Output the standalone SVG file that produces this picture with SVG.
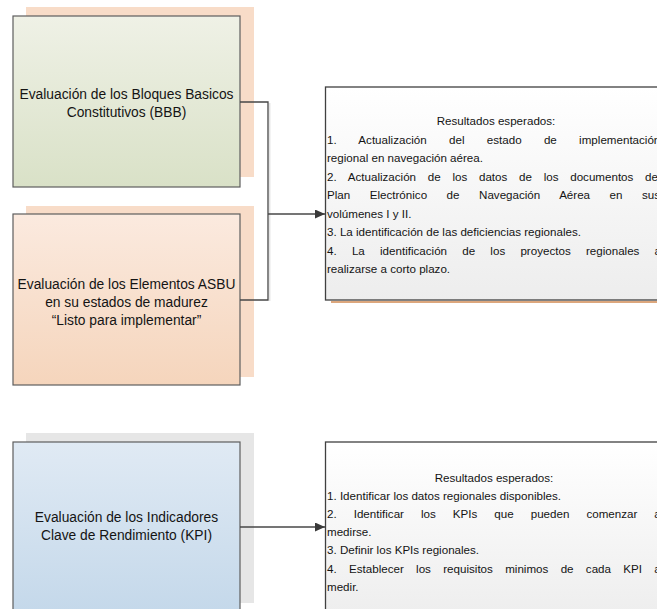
<svg xmlns="http://www.w3.org/2000/svg" width="657" height="609" viewBox="0 0 657 609">
<defs>
  <linearGradient id="gGreen" x1="0" y1="0" x2="0" y2="1">
    <stop offset="0" stop-color="#eff1e6"/><stop offset="1" stop-color="#d9e1c7"/>
  </linearGradient>
  <linearGradient id="gPeach" x1="0" y1="0" x2="0" y2="1">
    <stop offset="0" stop-color="#fbeadf"/><stop offset="1" stop-color="#f5d5bc"/>
  </linearGradient>
  <linearGradient id="gBlue" x1="0" y1="0" x2="0" y2="1">
    <stop offset="0" stop-color="#e0eaf4"/><stop offset="1" stop-color="#c4d8ea"/>
  </linearGradient>
  <linearGradient id="gWhite" x1="0" y1="0" x2="0" y2="1">
    <stop offset="0" stop-color="#ffffff"/><stop offset="1" stop-color="#ededed"/>
  </linearGradient>
  <marker id="arr" markerUnits="userSpaceOnUse" markerWidth="10" markerHeight="9" refX="10" refY="4.5" orient="auto">
    <path d="M0,0 L10,4.5 L0,9 z" fill="#3a3a3a"/>
  </marker>
</defs>
<style>
  .box{stroke:#5e5e5e;stroke-width:1.2}
  .rbox{stroke:#404040;stroke-width:1.3}
  .t{font-family:"Liberation Sans",Arial,sans-serif;fill:#141414}
  .bt{font-size:13.8px;text-anchor:middle}
  .rt{font-size:11.6px}
  .rc{text-anchor:middle}
  .conn{fill:none;stroke:#474747;stroke-width:1.3}
</style>

<g id="bbb">
  <rect x="26" y="7" width="228" height="170" fill="#f8dcc8"/>
  <rect class="box" x="13" y="16" width="227" height="171" fill="url(#gGreen)"/>
  <text class="t bt" x="126.5" y="98.5">Evaluación de los Bloques Basicos</text>
  <text class="t bt" x="126.5" y="116.5">Constitutivos (BBB)</text>
</g>

<g id="asbu">
  <rect x="26" y="206" width="228" height="171" fill="#f8dcc8"/>
  <rect class="box" x="13" y="214" width="227" height="171" fill="url(#gPeach)"/>
  <text class="t bt" x="126.5" y="288.5">Evaluación de los Elementos ASBU</text>
  <text class="t bt" x="126.5" y="306.5">en su estados de madurez</text>
  <text class="t bt" x="126.5" y="324.5">“Listo para implementar”</text>
</g>

<g id="kpi">
  <rect x="26" y="433" width="228" height="170" fill="#e6e6e6"/>
  <rect class="box" x="13" y="442" width="227" height="172" fill="url(#gBlue)"/>
  <text class="t bt" x="126.5" y="522">Evaluación de los Indicadores</text>
  <text class="t bt" x="126.5" y="540">Clave de Rendimiento (KPI)</text>
</g>

<g id="res1">
  <line x1="331" y1="302" x2="670" y2="302" stroke="#d08a52" stroke-width="1.6"/>
  <rect class="rbox" x="325.5" y="87" width="345" height="213" fill="url(#gWhite)"/>
  <text class="t rt rc" x="496" y="125">Resultados esperados:</text>
  <text class="t rt" x="327" y="143.5" style="word-spacing:19.1px">1. Actualización del estado de implementación</text>
  <text class="t rt" x="327" y="162">regional en navegación aérea.</text>
  <text class="t rt" x="327" y="180.5" style="word-spacing:8.5px">2. Actualización de los datos de los documentos del</text>
  <text class="t rt" x="327" y="199" style="word-spacing:16.3px">Plan Electrónico de Navegación Aérea en sus</text>
  <text class="t rt" x="327" y="217.5">volúmenes I y II.</text>
  <text class="t rt" x="327" y="236">3. La identificación de las deficiencias regionales.</text>
  <text class="t rt" x="327" y="254.5" style="word-spacing:12px">4. La identificación de los proyectos regionales a</text>
  <text class="t rt" x="327" y="273">realizarse a corto plazo.</text>
</g>

<g id="res2">
  <rect class="rbox" x="325.5" y="442" width="345" height="180" fill="url(#gWhite)"/>
  <text class="t rt rc" x="494" y="481.5">Resultados esperados:</text>
  <text class="t rt" x="327" y="499.7">1. Identificar los datos regionales disponibles.</text>
  <text class="t rt" x="327" y="517.9" style="word-spacing:13.8px">2. Identificar los KPIs que pueden comenzar a</text>
  <text class="t rt" x="327" y="536.1">medirse.</text>
  <text class="t rt" x="327" y="554.3">3. Definir los KPIs regionales.</text>
  <text class="t rt" x="327" y="572.5" style="word-spacing:9.1px">4. Establecer los requisitos minimos de cada KPI a</text>
  <text class="t rt" x="327" y="590.7">medir.</text>
</g>

<g id="connectors">
  <path d="M269.7,103 V301" stroke="#e4e4e4" stroke-width="1.5" fill="none"/>
  <path class="conn" d="M240,102 H268 V300 H240"/>
  <path class="conn" d="M268,214 H325" marker-end="url(#arr)"/>
  <path class="conn" d="M240,527 H325" marker-end="url(#arr)"/>
</g>
</svg>
